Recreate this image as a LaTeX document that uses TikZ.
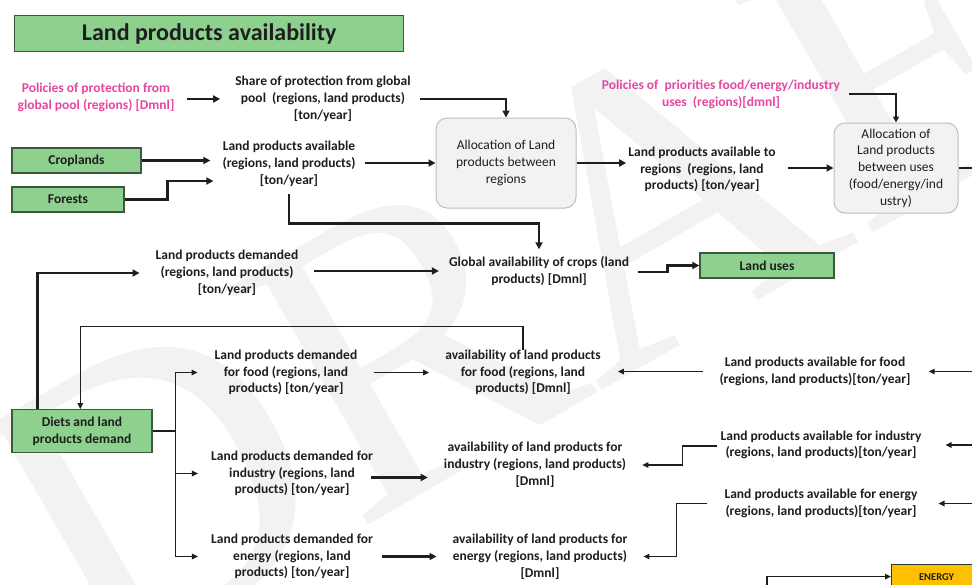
\documentclass[tikz,border=0pt]{standalone}
\usepackage{fontspec}
\setmainfont{Carlito}
\newfontfamily\wmfont{Liberation Serif}
\usetikzlibrary{arrows.meta,calc}

\definecolor{ink}{RGB}{30,30,30}
\definecolor{policy}{RGB}{230,70,160}
\definecolor{leaf}{RGB}{142,208,142}
\definecolor{leafline}{RGB}{62,88,62}
\definecolor{panel}{RGB}{242,242,242}
\definecolor{panelline}{RGB}{190,190,190}
\definecolor{amber}{RGB}{255,192,0}

\tikzset{
  lbl/.style={inner sep=0pt, align=center, text=ink,
    font=\fontsize{13.5}{16.8}\selectfont\bfseries},
  pol/.style={lbl, text=policy},
  gbox/.style={draw=leafline, fill=leaf, line width=1.3pt, inner sep=0pt,
    align=center, text=ink, font=\fontsize{13.5}{16.8}\selectfont\bfseries},
  rbox/.style={draw=panelline, fill=panel, line width=1pt, rounded corners=11pt,
    inner sep=0pt, align=center, text=ink,
    font=\fontsize{13.5}{16.8}\selectfont},
  thk/.style={line width=2.4pt, draw=ink, -{Triangle[length=7pt,width=7pt]}},
  mid/.style={line width=1.6pt, draw=ink, -{Triangle[length=6pt,width=6pt]}},
  thn/.style={line width=1.3pt, draw=ink, -{Triangle[length=6pt,width=5.5pt]}},
  plain/.style={line width=1.3pt, draw=ink},
}

\begin{document}
\begin{tikzpicture}[x=1pt,y=-1pt]
\useasboundingbox (0,0) rectangle (972,584);
\fill[white] (0,0) rectangle (972,584);

% faint watermark lettering behind the chart
\node[text=black!5, rotate=30, font=\fontsize{420}{420}\wmfont] (wm) at (620,220) {DRAFT};

% title
\node[gbox, anchor=north west, minimum width=389pt, minimum height=36pt,
      font=\fontsize{24}{28}\selectfont\bfseries] (title) at (14,15) {Land products availability};

% upper chain
\node[pol] (pol1) at (96,97) {Policies of protection from\\global pool (regions) [Dmnl]};
\node[lbl] (share) at (323,99) {Share of protection from global\\pool\ \ (regions, land products)\\{}[ton/year]};
\node[rbox, minimum width=140pt, minimum height=90pt] (alloc1) at (506,163) {Allocation of Land\\products between\\regions};
\node[gbox, minimum width=129pt, minimum height=25pt] (crop) at (76.5,160.5) {Croplands};
\node[gbox, minimum width=112pt, minimum height=25pt] (forest) at (68,199.5) {Forests};
\node[lbl] (avail) at (289,164) {Land products available\\(regions, land products)\\{}[ton/year]};
\node[lbl] (availreg) at (702,169.5) {Land products available to\\regions\ \ (regions, land\\products) [ton/year]};
\node[rbox, minimum width=124pt, minimum height=90pt] (alloc2) at (896,168) {Allocation of\\Land products\\between uses\\(food/energy/ind\\ustry)};
\node[pol] (pol2) at (721,94) {Policies of\ \ priorities food/energy/industry\\uses\ \ (regions)[dmnl]};

% middle row
\node[lbl] (dem) at (227,273) {Land products demanded\\(regions, land products)\\{}[ton/year]};
\node[lbl] (glob) at (539,271) {Global availability of crops (land\\products) [Dmnl]};
\node[gbox, minimum width=134pt, minimum height=25pt] (landuse) at (767,265.5) {Land uses};

% demand side
\node[gbox, minimum width=140pt, minimum height=42.5pt] (diets) at (82,431) {Diets and land\\products demand};
\node[lbl] (demfood) at (286,372.5) {Land products demanded\\for food (regions, land\\products) [ton/year]};
\node[lbl] (demind) at (292,473.5) {Land products demanded for\\industry (regions, land\\products) [ton/year]};
\node[lbl] (demen) at (292,556.5) {Land products demanded for\\energy (regions, land\\products) [ton/year]};
\node[lbl] (avfood) at (523,372.4) {availability of land products\\for food (regions, land\\products) [Dmnl]};
\node[lbl] (avind) at (535,465) {availability of land products for\\industry (regions, land products)\\{}[Dmnl]};
\node[lbl] (aven) at (540,556.5) {availability of land products for\\energy (regions, land products)\\{}[Dmnl]};
\node[lbl] (lafood) at (815,371.5) {Land products available for food\\(regions, land products)[ton/year]};
\node[lbl] (laind) at (821,445) {Land products available for industry\\(regions, land products)[ton/year]};
\node[lbl] (laen) at (821,503.5) {Land products available for energy\\(regions, land products)[ton/year]};
\node[draw=leafline!70!black, fill=amber, line width=1.2pt, anchor=north west,
      minimum width=90pt, minimum height=24pt, inner sep=0pt, text=ink,
      font=\fontsize{10.5}{12}\selectfont\bfseries] (energy) at (891,564) {ENERGY};

% free ends at the right and bottom border
\coordinate (eA) at (972,168);
\coordinate (eF) at (972,371.5);
\coordinate (eI) at (972,445);
\coordinate (eN) at (972,503.5);
\coordinate (eE) at (767,592);

% connectors, upper chain
\draw[thk, shorten <=12pt, shorten >=15pt] (pol1.east |- share.west) -- (share.west);
\draw[thk, shorten <=9pt] (share.east) -| (alloc1.north);
\draw[thk, shorten >=12pt] (crop.east) -- (crop.east -| avail.west);
\draw[thk] (forest.east) -- ++(43,0) |- ($(avail.west)+(-9,17)$);
\draw[thk, shorten <=9pt] (avail.east |- alloc1.west) -- (alloc1.west);
\draw[thk, shorten <=7pt, shorten >=7pt] (avail.south) |- ($(glob.north)+(0,-33)$) -- (glob.north);
\draw[thk, shorten >=2pt] (alloc1.east) -- (alloc1.east -| availreg.west);
\draw[thk, shorten <=12pt] (availreg.east |- alloc2.west) -- (alloc2.west);
\draw[plain] (alloc2.east) -- (eA);
\draw[mid, shorten <=9pt] (pol2.east) -| (alloc2.north);

% connectors, middle row
\draw[thk, shorten <=16pt, shorten >=10pt] (dem.east |- glob.west) -- (glob.west);
\draw[thk] ($(glob.east)+(9,1)$) -- ++(29.5,0) |- (landuse.west);
\draw[thk, shorten >=16pt] ($(diets.north west)+(26,0)$) |- (dem.west);

% connectors, demand side
\draw[thn] (avfood.north) -- ++(0,-23) -| ($(diets.north west)+(69,0)$);
\coordinate (brx) at ($(diets.east)+(23,0)$);
\draw[plain, line width=1.6pt] (diets.east) -- (brx);
\draw[thn, line width=1.6pt, shorten >=17pt] (brx) |- (demfood.west);
\draw[thn, line width=1.6pt, shorten >=13pt] (brx) |- (demind.west);
\draw[thn, line width=1.6pt, shorten >=13pt] (brx) |- (demen.west);
\draw[thn, shorten <=17pt, shorten >=16pt] (demfood.east) -- (demfood.east -| avfood.west);
\draw[thk, shorten >=16pt] ($(demind.east)+(-2,4)$) -- ($(demind.east -| avind.west)+(0,4)$);
\draw[thk, shorten <=9pt, shorten >=16pt] (demen.east) -- (demen.east -| aven.west);

% connectors, supply side
\draw[thn, shorten <=16pt, shorten >=17pt] (lafood.west) -- (lafood.west -| avfood.east);
\draw[thn, shorten >=16pt] ($(laind.west)+(-3,1)$) -- ++(-35,0) |- (avind.east);
\draw[thn, shorten >=16pt] ($(laen.west)+(-17,0)$) -- ++(-31,0) |- (aven.east);
\draw[thn, shorten >=18pt] (eF) -- (eF -| lafood.east);
\draw[thn, shorten >=24pt] (eI) -- (eI -| laind.east);
\draw[thn, shorten >=21pt] (eN) -- (eN -| laen.east);
\draw[thn] (eE) |- (energy.west);
\end{tikzpicture}
\end{document}
